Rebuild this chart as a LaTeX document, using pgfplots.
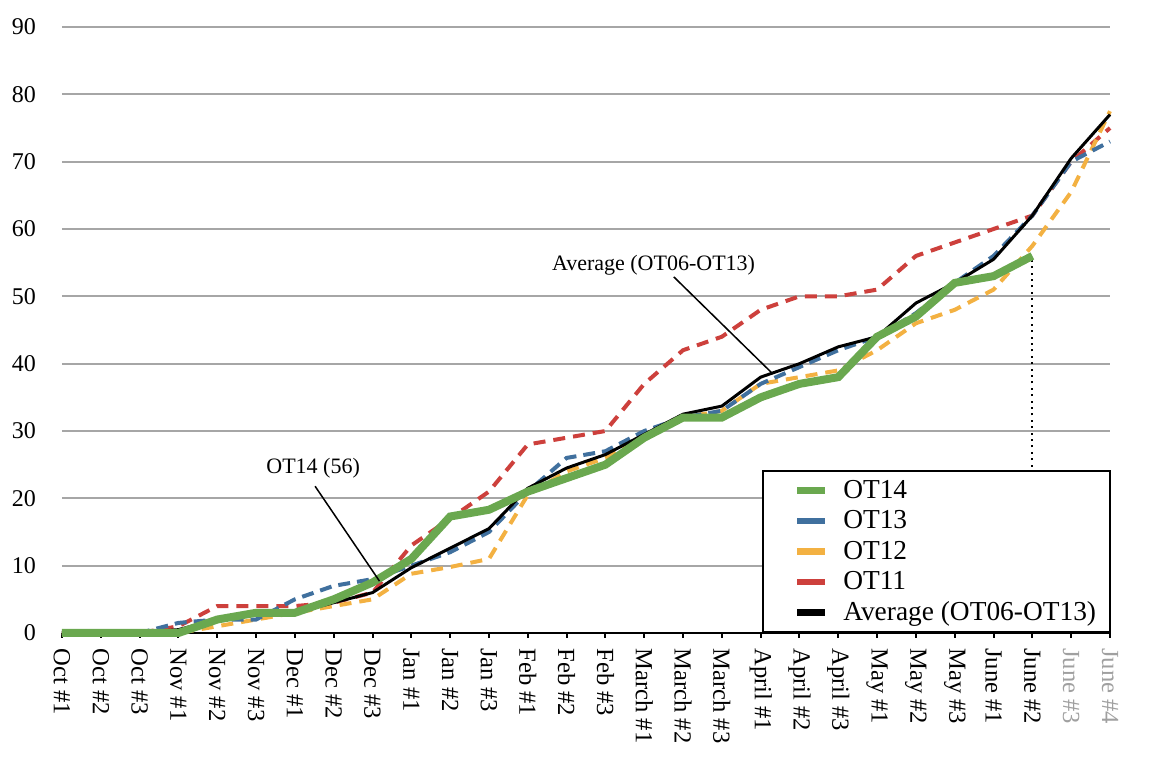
\documentclass[border=0pt]{standalone}
\usepackage{pgfplots}
\pgfplotsset{compat=1.18}
\usepackage{fontspec}
\setmainfont{Liberation Serif}

\definecolor{cGreen}{RGB}{106,168,79}
\definecolor{cBlue}{RGB}{64,112,158}
\definecolor{cOrange}{RGB}{243,177,66}
\definecolor{cRed}{RGB}{205,64,60}
\definecolor{cGrid}{RGB}{166,166,166}
\definecolor{cLight}{RGB}{160,160,160}

\begin{document}
\begin{tikzpicture}
\begin{axis}[
    name=ax,
    scale only axis,
    width=524pt, height=303pt,
    xmin=0, xmax=27, ymin=0, ymax=90,
    clip=false,
    axis x line*=bottom,
    axis y line*=left,
    axis line style={-},
    x axis line style={line width=1.2pt},
    y axis line style={draw=none},
    xtick={0,...,27},
    xticklabels={Oct \#1,Oct \#2,Oct \#3,Nov \#1,Nov \#2,Nov \#3,Dec \#1,Dec \#2,Dec \#3,
      Jan \#1,Jan \#2,Jan \#3,Feb \#1,Feb \#2,Feb \#3,March \#1,March \#2,March \#3,
      April \#1,April \#2,April \#3,May \#1,May \#2,May \#3,June \#1,June \#2,
      \textcolor{cLight}{June \#3},\textcolor{cLight}{June \#4}},
    xticklabel style={rotate=-90, anchor=west, font=\fontsize{12.3}{14}\selectfont, inner sep=0pt, xshift=5pt},
    xtick align=outside,
    major tick length=2.5pt,
    xtick style={line width=1pt, black},
    ytick={0,10,...,90},
    ytick style={draw=none},
    yticklabel style={font=\fontsize{12}{14}\selectfont, anchor=east, xshift=-9.5pt},
    /pgf/number format/assume math mode=true,
    ymajorgrids=true,
    grid style={cGrid, line width=1pt},
    legend cell align=left,
    legend style={at={(rel axis cs:0.668,0)}, anchor=south west,
      draw=black, line width=1.2pt, fill=white,
      font=\fontsize{13.7}{16}\selectfont,
      inner xsep=7pt, inner ysep=2pt,
      nodes={inner xsep=0pt, inner ysep=0pt, text height=11.5pt, text depth=3.75pt}},
]
\addlegendimage{legend image code/.code={
  \path[draw=none] (0pt,0pt) -- (33pt,0pt);
  \fill[cGreen] (10.5pt,-1.1pt) rectangle (23.5pt,1.1pt);}}
\addlegendentry{OT14}
\addlegendimage{legend image code/.code={
  \path[draw=none] (0pt,0pt) -- (33pt,0pt);
  \fill[cBlue] (10.5pt,-1.1pt) rectangle (23.5pt,1.1pt);}}
\addlegendentry{OT13}
\addlegendimage{legend image code/.code={
  \path[draw=none] (0pt,0pt) -- (33pt,0pt);
  \fill[cOrange] (10.5pt,-1.1pt) rectangle (23.5pt,1.1pt);}}
\addlegendentry{OT12}
\addlegendimage{legend image code/.code={
  \path[draw=none] (0pt,0pt) -- (33pt,0pt);
  \fill[cRed] (10.5pt,-1.1pt) rectangle (23.5pt,1.1pt);}}
\addlegendentry{OT11}
\addlegendimage{legend image code/.code={
  \path[draw=none] (0pt,0pt) -- (33pt,0pt);
  \fill[black] (10.5pt,-1.1pt) rectangle (23.5pt,1.1pt);}}
\addlegendentry{Average (OT06-OT13)}

% dotted marker at June #2
\addplot[forget plot, black, line width=1.1pt, dash pattern=on 1pt off 2.2pt] coordinates {(25,0) (25,56)};

% OT11
\addplot[forget plot, cRed, line width=2pt, dash pattern=on 6pt off 4pt] coordinates {
(0,0)(1,0)(2,0)(3,1)(4,4)(5,4)(6,4)(7,4.5)(8,6)(9,13)(10,17)(11,21)(12,28)(13,29)
(14,30)(15,37)(16,42)(17,44)(18,48)(19,50)(20,50)(21,51)(22,56)(23,58)(24,60)(25,62)(26,70)(27,75)};
% OT12
\addplot[forget plot, cOrange, line width=2pt, dash pattern=on 6pt off 4pt] coordinates {
(0,0)(1,0)(2,0)(3,0)(4,1)(5,2)(6,3)(7,4)(8,5)(9,8.8)(10,9.8)(11,11)(12,20.5)(13,24)
(14,26)(15,29)(16,32)(17,33)(18,37)(19,38)(20,39)(21,42)(22,46)(23,48)(24,51)(25,57.5)(26,65.5)(27,77.5)};
% OT13
\addplot[forget plot, cBlue, line width=2pt, dash pattern=on 6pt off 3.5pt] coordinates {
(0,0)(1,0)(2,0)(3,1.5)(4,2)(5,2)(6,5)(7,7)(8,8)(9,10)(10,12)(11,15)(12,21)(13,26)
(14,27)(15,30)(16,32)(17,33)(18,37)(19,39.5)(20,42)(21,44)(22,47.5)(23,52)(24,56)(25,62)(26,70)(27,73)};
% Average (OT06-OT13)
\addplot[forget plot, black, line width=1.5pt] coordinates {
(0,0)(1,0)(2,0)(3,0.5)(4,2)(5,3)(6,3)(7,4.5)(8,6)(9,9.7)(10,12.6)(11,15.5)(12,21.5)(13,24.5)
(14,26.5)(15,29.5)(16,32.5)(17,33.7)(18,38)(19,40)(20,42.5)(21,44)(22,49)(23,52)(24,55.5)(25,62)(26,70.5)(27,77)};
% OT14
\addplot[forget plot, cGreen, line width=4pt] coordinates {
(0,0)(1,0)(2,0)(3,0)(4,2)(5,3)(6,3)(7,5)(8,7.5)(9,11)(10,17.3)(11,18.3)(12,21)(13,23)
(14,25)(15,29)(16,32)(17,32)(18,35)(19,37)(20,38)(21,44)(22,47)(23,52)(24,53)(25,56)};

% annotations
\node[font=\fontsize{11}{13}\selectfont] at (axis cs:6.47,24.5) {OT14 (56)};
\draw[black, line width=0.75pt] (axis cs:6.52,21.8) -- (axis cs:8.18,7.7);
\node[font=\fontsize{11}{13}\selectfont] at (axis cs:15.24,54.65) {Average (OT06-OT13)};
\draw[black, line width=0.75pt] (axis cs:15.76,52.9) -- (axis cs:18.31,38.5);
\end{axis}
\pgfresetboundingbox
\path ([shift={(-31pt,-73.5pt)}]ax.south west) rectangle ++(580pt,390pt);
\end{tikzpicture}
\end{document}
